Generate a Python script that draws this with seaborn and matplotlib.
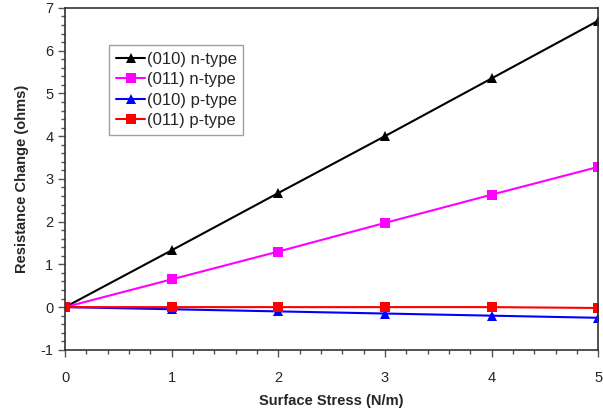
import matplotlib
matplotlib.use("Agg")
import matplotlib.pyplot as plt
from matplotlib.ticker import MultipleLocator
import seaborn as sns
import pandas as pd

stress = [0, 1, 2, 3, 4, 5]
n010 = [0, 1.33, 2.67, 4.00, 5.35, 6.70]
n011 = [0, 0.65, 1.30, 1.97, 2.63, 3.28]
p010 = [0, -0.05, -0.10, -0.15, -0.20, -0.25]
p011 = [0, 0.00, 0.00, 0.00, 0.00, -0.02]
labels = ["(010) n-type", "(011) n-type", "(010) p-type", "(011) p-type"]
colors = ["#000000", "#ff00ff", "#0000ff", "#ff0000"]
markers = ["^", "s", "^", "s"]

rows = []
for lab, vals in zip(labels, [n010, n011, p010, p011]):
    for x, y in zip(stress, vals):
        rows.append({"stress": x, "value": y, "series": lab})
df = pd.DataFrame(rows)

sns.set_style("white")
plt.rcParams['font.family'] = ['Liberation Sans', 'DejaVu Sans']

fig = plt.figure(figsize=(6.03, 4.17), dpi=100)
ax = fig.add_axes([0.108, 0.161, 0.884, 0.820])

sns.lineplot(data=df, x="stress", y="value", hue="series", style="series",
             hue_order=labels, style_order=labels,
             palette=dict(zip(labels, colors)),
             markers=dict(zip(labels, markers)),
             dashes=False, markersize=7, markeredgewidth=0,
             linewidth=1.5, ax=ax, legend=True)

ax.set_xlim(0, 5)
ax.set_ylim(-1, 7)
ax.xaxis.set_major_locator(MultipleLocator(1))
ax.xaxis.set_minor_locator(MultipleLocator(0.2))
ax.yaxis.set_major_locator(MultipleLocator(1))
ax.yaxis.set_minor_locator(MultipleLocator(0.2))
ax.set_yticklabels([f"{int(v)}" for v in ax.get_yticks()])
ax.tick_params(axis="both", which="major", direction="out", length=5, width=1,
               color="#555555", labelsize=10.5, bottom=True, left=True)
ax.tick_params(axis="both", which="minor", direction="out", length=3, width=1,
               color="#555555", bottom=True, left=True)
ax.tick_params(axis="x", pad=10)
for s in ax.spines.values():
    s.set_color("#333333")
    s.set_linewidth(1.2)

ax.set_xlabel("Surface Stress (N/m)", fontsize=10.5, fontweight="bold", labelpad=7)
ax.set_ylabel("Resistance Change (ohms)", fontsize=10.5, fontweight="bold", labelpad=8)

leg = ax.legend(loc="upper left", bbox_to_anchor=(0.083, 0.892), fontsize=12,
                frameon=True, fancybox=False, handlelength=1.75, handletextpad=0.1,
                labelspacing=0.33, borderpad=0.4, borderaxespad=0)
leg.get_frame().set_edgecolor("#888888")
leg.get_frame().set_linewidth(1.0)

fig.savefig("out.png", dpi=100)
